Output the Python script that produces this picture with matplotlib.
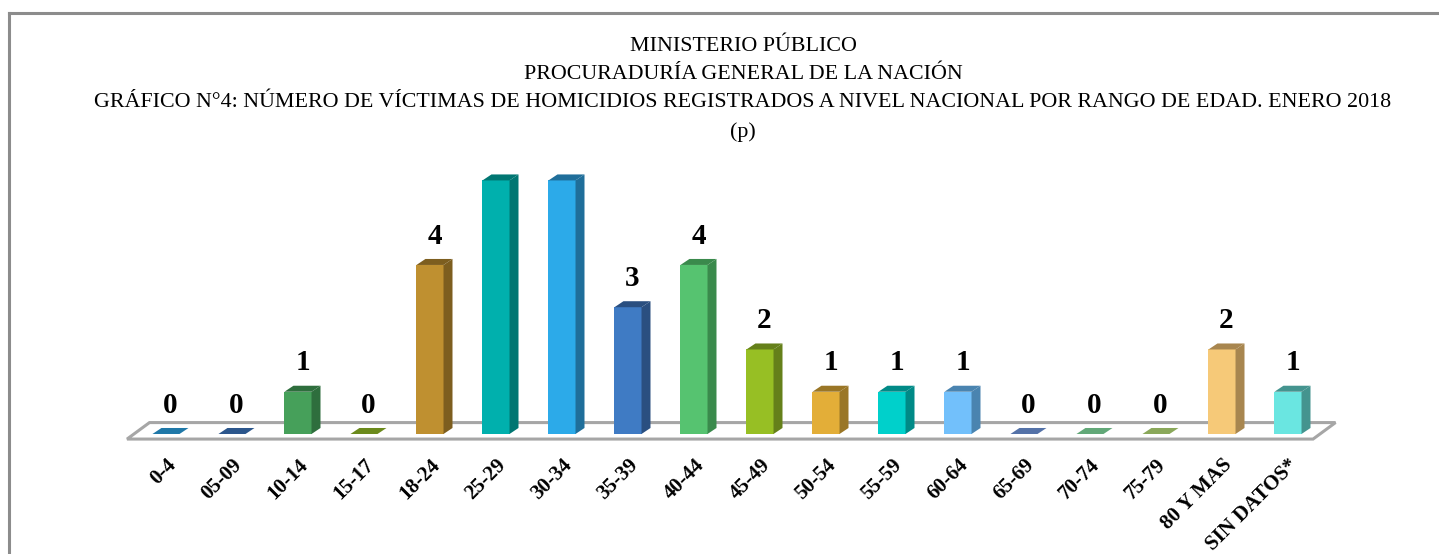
"""Víctimas de homicidio por rango de edad, enero 2018 (barras con efecto 3D)."""

import matplotlib.pyplot as plt
from matplotlib.patches import Polygon

categorias = ["0-4", "05-09", "10-14", "15-17", "18-24", "25-29", "30-34", "35-39",
              "40-44", "45-49", "50-54", "55-59", "60-64", "65-69", "70-74", "75-79",
              "80 Y MAS", "SIN DATOS*"]
victimas = [0, 0, 1, 0, 4, 6, 6, 3, 4, 2, 1, 1, 1, 0, 0, 0, 2, 1]
# las barras 25-29 y 30-34 no tienen etiqueta en el original
mostrar_etiqueta = [True] * 5 + [False, False] + [True] * 11

frente = ["#1f78a8", "#2b568c", "#46a05a", "#6b8a1c", "#bf9030", "#00b0ad", "#2caae9",
          "#3f7bc4", "#56c370", "#97bf24", "#e3ae38", "#00d0cb", "#72c0fb", "#5472a8",
          "#62a878", "#8aa85a", "#f6c978", "#6ae6e1"]
lateral = ["#175a7e", "#1f3f68", "#2e6e3d", "#4e6614", "#7d5e1f", "#007672", "#1f6e9a",
           "#2a4f80", "#3a8a4c", "#65801a", "#9a7626", "#008a87", "#4a84b0", "#3d5480",
           "#487c58", "#667c40", "#a8864f", "#44948f"]

W = 0.41      # ancho del frente
DX = 0.136    # profundidad en x
DY = 0.142    # profundidad en y

fig = plt.figure(figsize=(14.39, 5.54), dpi=100)
ax = fig.add_axes([0, 0, 1, 1])
ax.set_xlim(-2.515, 19.288)
ax.set_ylim(-2.84, 10.27)
ax.axis("off")

# marco de la figura (solo se ven borde superior e izquierdo)
fig.add_artist(plt.Line2D([9 / 1439, 1], [1 - 13 / 554] * 2, color="#8c8c8c", lw=2.2,
                          transform=fig.transFigure))
fig.add_artist(plt.Line2D([9 / 1439] * 2, [0, 1 - 13 / 554], color="#8c8c8c", lw=2.2,
                          transform=fig.transFigure))

# piso
n = len(categorias)
x0, x1 = -0.59, n - 1 + 0.38
fy0, fy1 = -0.12, 0.27
piso = Polygon([(x0, fy0), (x1, fy0), (x1 + 0.34, fy1), (x0 + 0.34, fy1)],
               closed=True, facecolor="white", edgecolor="#a6a6a6", lw=2.2, zorder=1)
ax.add_patch(piso)

for i, (v, cf, cl) in enumerate(zip(victimas, frente, lateral)):
    xl, xr = i - W / 2, i + W / 2
    if v > 0:
        ax.bar(i, v, width=W, color=cf, edgecolor="none", zorder=3)
        ax.add_patch(Polygon([(xr, 0), (xr + DX, DY), (xr + DX, v + DY), (xr, v)],
                             closed=True, facecolor=cl, edgecolor="none", zorder=3))
    ax.add_patch(Polygon([(xl, v), (xr, v), (xr + DX, v + DY), (xl + DX, v + DY)],
                         closed=True, facecolor=cl if v > 0 else cf, edgecolor="none",
                         zorder=3))
    if mostrar_etiqueta[i]:
        ax.text(i + DX / 2, v + DY + 0.22, str(v), ha="center", va="bottom",
                family="Liberation Serif", fontweight="bold", fontsize=21, zorder=4)
    ax.text(i + 0.0, -0.5, categorias[i], ha="right", va="top", rotation=45,
            rotation_mode="anchor", family="Liberation Serif", fontweight="bold",
            fontsize=15)

titulo = ("MINISTERIO PÚBLICO\nPROCURADURÍA GENERAL DE LA NACIÓN\n"
          "GRÁFICO N°4: NÚMERO DE VÍCTIMAS DE HOMICIDIOS REGISTRADOS A NIVEL NACIONAL "
          "POR RANGO DE EDAD. ENERO 2018\n(p)")
fig.text(743 / 1439, 1 - 37 / 554, titulo, ha="center", va="top",
         family="Liberation Serif", fontsize=15.8, linespacing=1.65)

fig.savefig("out.png", dpi=100)
